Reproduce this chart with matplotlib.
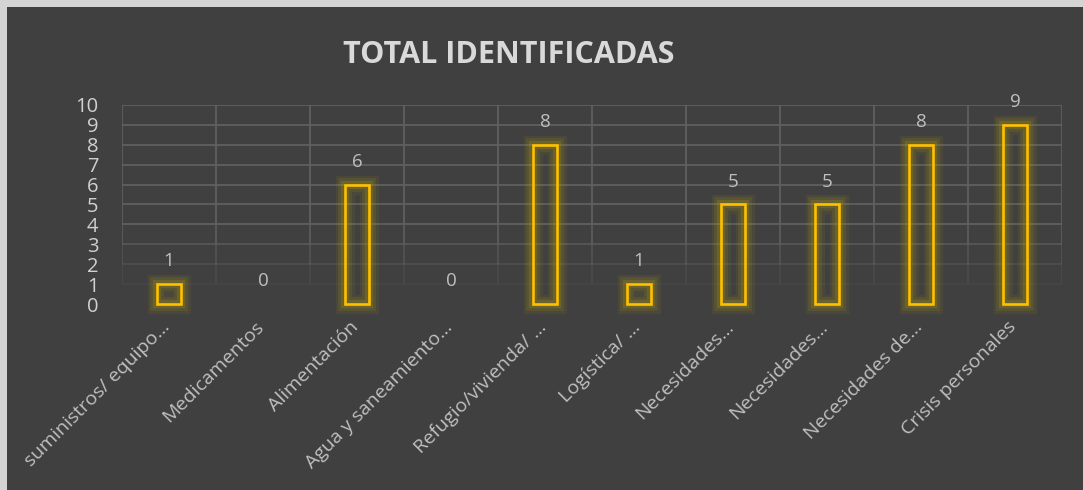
import matplotlib
matplotlib.use("Agg")
import matplotlib.pyplot as plt
import matplotlib.patheffects as pe
import matplotlib.transforms as mtransforms
from matplotlib.patches import Rectangle
import numpy as np

categories = ["suministros/ equipo…", "Medicamentos", "Alimentación",
              "Agua y saneamiento…", "Refugio/vivienda/ …", "Logística/ …",
              "Necesidades…", "Necesidades…", "Necesidades de…", "Crisis personales"]
values = [1, 0, 6, 0, 8, 1, 5, 5, 8, 9]
yticks = list(range(0, 11))
title = "TOTAL IDENTIFICADAS"

plt.rcParams['font.family'] = ['Open Sans', 'DejaVu Sans']

fig = plt.figure(figsize=(10.83, 4.90), dpi=100)
fig.patch.set_facecolor('#d4d4d4')
bg = Rectangle((7/1083, 0), 1, 1 - 7/490, transform=fig.transFigure,
               facecolor='#404040', edgecolor='none', zorder=-5)
fig.add_artist(bg)

ax = fig.add_axes([122/1083, (490-304)/490, 940/1083, 199/490])
ax.set_zorder(2)
ax.set_facecolor('none')
n = len(categories)
x = np.arange(n)
ax.set_xlim(-0.5, n - 0.5)
ax.set_ylim(0, 10)

# fading grid
def fade(v):
    return max(0.0, min(1.0, (v - 0.5) / 3.5))

for v in yticks:
    if v > 0:
        ax.axhline(v, color='#606060', lw=1.3, alpha=fade(v), zorder=1)
for b in np.arange(-0.5, n, 1.0):
    for s in range(10):
        ax.plot([b, b], [s, s + 1], color='#606060', lw=1.3,
                alpha=fade(s + 0.5), zorder=1, solid_capstyle='butt')

bars = ax.bar(x, values, width=0.25, facecolor='none', edgecolor='#FFC000',
              linewidth=1.9, zorder=3)
for b, v in zip(bars, values):
    b.set_clip_on(False)
    if v == 0:
        b.set_visible(False)
    b.set_path_effects([
        pe.Stroke(linewidth=14, foreground='#a89410', alpha=0.10),
        pe.Stroke(linewidth=10, foreground='#a89410', alpha=0.15),
        pe.Stroke(linewidth=6, foreground='#b8a010', alpha=0.22),
        pe.Normal()])

for xi, v in zip(x, values):
    ax.annotate(str(v), (xi, v), xytext=(0, 10), textcoords='offset points',
                ha='center', va='bottom', color='#bfbfbf', fontsize=13.5)

ax.set_yticks(yticks)
ax.set_yticklabels([str(t) for t in yticks], color='#d0d0d0', fontsize=14.5)
ax.tick_params(axis='y', length=0, pad=17)
ax.set_xticks(x)
ax.set_xticklabels(categories, rotation=45, ha='right', va='top',
                   rotation_mode='anchor', color='#bfbfbf', fontsize=14)
ax.tick_params(axis='x', length=0, pad=10)
off = mtransforms.ScaledTranslation(-8/100, 0, fig.dpi_scale_trans)
for lbl in ax.get_xticklabels():
    lbl.set_transform(lbl.get_transform() + off)
for sp in ax.spines.values():
    sp.set_visible(False)

fig.text(509/1083, 1 - 55/490, title, ha='center', va='center',
         color='#d9d9d9', fontsize=22, fontweight='bold')

fig.savefig('out.png', dpi=100, facecolor=fig.get_facecolor())
